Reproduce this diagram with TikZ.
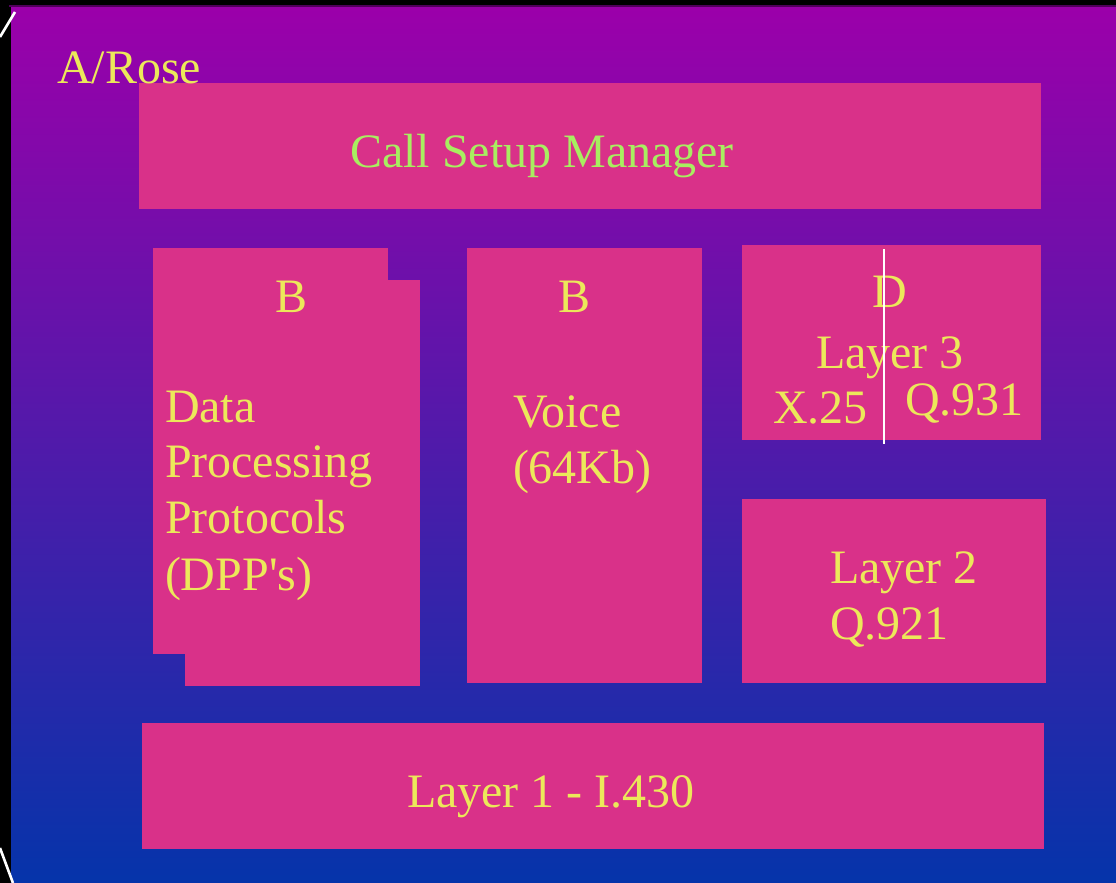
\documentclass[tikz,border=0pt]{standalone}
\usepackage{fontspec}
\setmainfont{Liberation Serif}
\definecolor{bgtop}{RGB}{155,0,170}
\definecolor{bgbot}{RGB}{5,52,170}
\definecolor{pinkbox}{RGB}{217,49,137}
\definecolor{ytext}{RGB}{236,232,90}
\definecolor{gtext}{RGB}{168,238,96}
\definecolor{darkline}{RGB}{80,0,90}
\begin{document}
\begin{tikzpicture}[x=1pt,y=-1pt,
  pbox/.style={fill=pinkbox,draw=none,inner sep=0pt,outer sep=0pt},
  lbl/.style={anchor=base west,inner sep=0pt,outer sep=0pt,text=ytext,font=\fontsize{48}{56}\selectfont},
  glbl/.style={lbl,text=gtext},
  wline/.style={draw=white,line width=2.6pt}]
\useasboundingbox (0,0) rectangle (1116,883);
\fill[black] (0,0) rectangle (1116,883);
\draw[darkline,line width=1.5pt] (9,5.8) -- (1116,5.8);
\shade[top color=bgtop,bottom color=bgbot] (11,8) rectangle (1116,883);
\coordinate (tl1) at (0,37); \coordinate (tl2) at (15,12);
\coordinate (bl1) at (0,848); \coordinate (bl2) at (13,883);
\draw[wline] (tl1) -- (tl2);
\draw[wline] (bl1) -- (bl2);
% boxes
\node[pbox,minimum width=902pt,minimum height=126pt] (csm) at (590,146) {};
\node[pbox,minimum width=235pt,minimum height=406pt] (dppfront) at (270.5,451) {};
\node[pbox,minimum width=235pt,minimum height=406pt] (dppback) at (302.5,483) {};
\node[pbox,minimum width=235pt,minimum height=435pt] (voice) at (584.5,465.5) {};
\node[pbox,minimum width=299pt,minimum height=195pt] (dbox) at (891.5,342.5) {};
\node[pbox,minimum width=304pt,minimum height=184pt] (ltwo) at (894,591) {};
\node[pbox,minimum width=902pt,minimum height=126pt] (lone) at (593,786) {};
% labels
\node[lbl] (arose) at (57,83) {A/Rose};
\node[glbl] (csmt) at (350,167) {Call Setup Manager};
\node[lbl] (b1) at (275,312) {B};
\node[lbl] (d1) at (165,422) {Data};
\node[lbl] (d2) at (165,477) {Processing};
\node[lbl] (d3) at (165,533) {Protocols};
\node[lbl] (d4) at (165,590) {(DPP\textquotesingle s)};
\node[lbl] (b2) at (558,312) {B};
\node[lbl] (v1) at (513,427) {Voice};
\node[lbl] (v2) at (513,483) {(64Kb)};
\node[lbl] (dd) at (872,307) {D};
\node[lbl] (l3) at (816,368) {Layer 3};
\node[lbl] (x25) at (773,423) {X.25};
\node[lbl] (q931) at (905,415) {Q.931};
\node[lbl] (l2a) at (830,583) {Layer 2};
\node[lbl] (l2b) at (830,639) {Q.921};
\node[lbl] (l1t) at (407,807) {Layer 1 - I.430};
\coordinate (vt) at (884,249); \coordinate (vb) at (884,444);
\draw[wline] (vt) -- (vb);
\end{tikzpicture}
\end{document}
